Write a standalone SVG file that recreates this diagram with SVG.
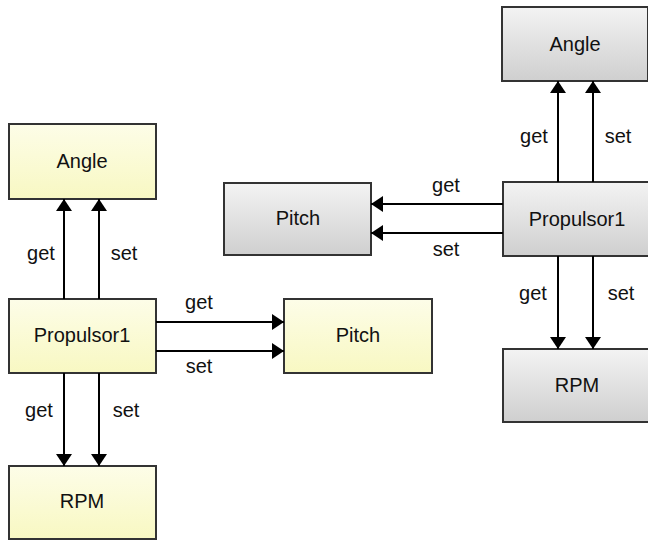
<svg xmlns="http://www.w3.org/2000/svg" width="648" height="540" viewBox="0 0 648 540">
  <style>
    .box-y { fill: url(#gradYellow); stroke: #333333; stroke-width: 2; }
    .box-g { fill: url(#gradGray); stroke: #333333; stroke-width: 2; }
    .name { font-family: "Liberation Sans", Arial, sans-serif; font-size: 20px; fill: #111; text-anchor: middle; }
    .lbl { font-family: "Liberation Sans", Arial, sans-serif; font-size: 20px; fill: #111; text-anchor: middle; }
    .edge { stroke: #000; stroke-width: 2; fill: none; marker-end: url(#head); }
  </style>
  <defs>
    <linearGradient id="gradYellow" x1="0" y1="0" x2="0" y2="1">
      <stop offset="0" stop-color="#fdfde8"/>
      <stop offset="1" stop-color="#f8f8c2"/>
    </linearGradient>
    <linearGradient id="gradGray" x1="0" y1="0" x2="0" y2="1">
      <stop offset="0" stop-color="#f3f3f3"/>
      <stop offset="1" stop-color="#cfcfcf"/>
    </linearGradient>
    <marker id="head" viewBox="0 0 12 16" refX="12" refY="8" markerWidth="12" markerHeight="16" markerUnits="userSpaceOnUse" orient="auto">
      <path d="M0,0 L12,8 L0,16 Z" fill="#000"/>
    </marker>
  </defs>

  <!-- left model: yellow boxes -->
  <g id="angle-left"><rect class="box-y" x="9" y="124" width="147" height="75"/><text class="name" x="82" y="168">Angle</text></g>
  <g id="propulsor-left"><rect class="box-y" x="9" y="299" width="147" height="74"/><text class="name" x="82" y="342">Propulsor1</text></g>
  <g id="pitch-left"><rect class="box-y" x="284" y="299" width="148" height="74"/><text class="name" x="358" y="342">Pitch</text></g>
  <g id="rpm-left"><rect class="box-y" x="9" y="466" width="147" height="73"/><text class="name" x="82" y="508">RPM</text></g>

  <!-- right model: gray boxes -->
  <g id="angle-right"><rect class="box-g" x="502" y="7" width="146" height="74"/><text class="name" x="575" y="51">Angle</text></g>
  <g id="propulsor-right"><rect class="box-g" x="503" y="182" width="147" height="74"/><text class="name" x="577" y="226">Propulsor1</text></g>
  <g id="pitch-right"><rect class="box-g" x="224" y="183" width="147" height="72"/><text class="name" x="298" y="225">Pitch</text></g>
  <g id="rpm-right"><rect class="box-g" x="503" y="349" width="147" height="73"/><text class="name" x="577" y="392">RPM</text></g>

  <g id="connectors">
    <!-- left: Propulsor1 to Angle -->
    <line class="edge" x1="64" y1="299" x2="64" y2="199"/>
    <line class="edge" x1="99" y1="299" x2="99" y2="199"/>
    <!-- left: Propulsor1 to Pitch -->
    <line class="edge" x1="156" y1="322" x2="284" y2="322"/>
    <line class="edge" x1="156" y1="351" x2="284" y2="351"/>
    <!-- left: Propulsor1 to RPM -->
    <line class="edge" x1="64" y1="373" x2="64" y2="466"/>
    <line class="edge" x1="99" y1="373" x2="99" y2="466"/>
    <!-- right: Propulsor1 to Angle -->
    <line class="edge" x1="558" y1="182" x2="558" y2="81"/>
    <line class="edge" x1="593" y1="182" x2="593" y2="81"/>
    <!-- right: Propulsor1 to Pitch -->
    <line class="edge" x1="503" y1="204" x2="371" y2="204"/>
    <line class="edge" x1="503" y1="233" x2="371" y2="233"/>
    <!-- right: Propulsor1 to RPM -->
    <line class="edge" x1="558" y1="256" x2="558" y2="349"/>
    <line class="edge" x1="593" y1="256" x2="593" y2="349"/>

    <!-- edge labels -->
    <text class="lbl" x="41" y="260">get</text>
    <text class="lbl" x="124" y="260">set</text>
    <text class="lbl" x="199" y="309">get</text>
    <text class="lbl" x="199" y="373">set</text>
    <text class="lbl" x="39" y="417">get</text>
    <text class="lbl" x="126" y="417">set</text>
    <text class="lbl" x="534" y="143">get</text>
    <text class="lbl" x="618" y="143">set</text>
    <text class="lbl" x="446" y="192">get</text>
    <text class="lbl" x="446" y="256">set</text>
    <text class="lbl" x="533" y="300">get</text>
    <text class="lbl" x="621" y="300">set</text>
  </g>
</svg>
